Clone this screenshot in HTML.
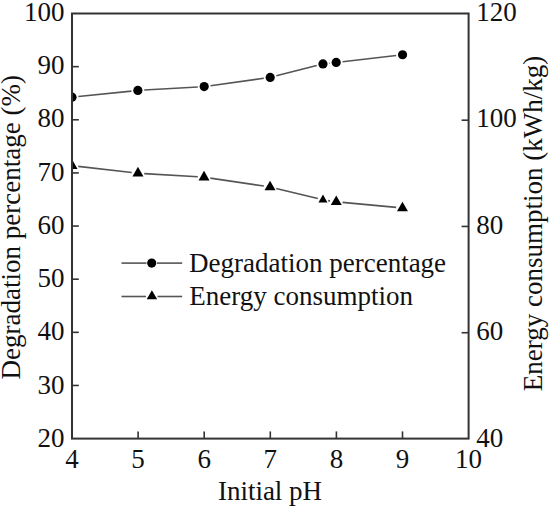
<!DOCTYPE html>
<html><head><meta charset="utf-8"><style>
html,body{margin:0;padding:0;background:#fff;}
svg{display:block;}

text{font-family:"Liberation Serif",serif;font-size:27px;fill:#111;}
</style></head><body><div>
<svg width="550" height="507" viewBox="0 0 550 507">
<defs><clipPath id="c"><rect x="72.0" y="13.5" width="396.60" height="425.10"/></clipPath></defs>
<g>
<g stroke="#555" stroke-width="1.6" fill="none"><line x1="78.37" y1="96.55" x2="131.48" y2="91.10"/><line x1="144.24" y1="90.07" x2="197.81" y2="86.93"/><line x1="210.54" y1="85.67" x2="263.86" y2="78.28"/><line x1="276.40" y1="75.82" x2="316.75" y2="65.53"/><line x1="329.31" y1="63.23" x2="329.84" y2="63.17"/><line x1="342.56" y1="61.71" x2="396.19" y2="55.49"/><line x1="78.26" y1="166.41" x2="131.69" y2="172.49"/><line x1="144.24" y1="173.58" x2="197.76" y2="176.82"/><line x1="210.28" y1="178.13" x2="263.82" y2="186.07"/><line x1="276.17" y1="188.48" x2="317.80" y2="198.55"/><line x1="328.19" y1="200.59" x2="330.02" y2="200.86"/><line x1="342.52" y1="202.39" x2="396.18" y2="207.41"/></g>
<g fill="#000" clip-path="url(#c)"><circle cx="72" cy="97.2" r="4.6"/><circle cx="137.85" cy="90.45" r="4.6"/><circle cx="204.2" cy="86.55" r="4.6"/><circle cx="270.2" cy="77.4" r="4.6"/><circle cx="322.95" cy="63.95" r="4.6"/><circle cx="336.2" cy="62.45" r="4.6"/><circle cx="402.55" cy="54.75" r="4.6"/><polygon points="72.00,159.35 66.50,168.88 77.50,168.88"/><polygon points="137.95,166.85 132.45,176.38 143.45,176.38"/><polygon points="204.05,170.85 198.55,180.38 209.55,180.38"/><polygon points="270.05,180.65 264.55,190.18 275.55,190.18"/><polygon points="322.95,194.60 318.45,202.40 327.45,202.40"/><polygon points="336.25,195.45 330.75,204.98 341.75,204.98"/><polygon points="402.45,201.65 396.95,211.18 407.95,211.18"/></g>
<g stroke="#333" stroke-width="1.6"><line x1="138.10" y1="438.60" x2="138.10" y2="431.40"/><line x1="204.20" y1="438.60" x2="204.20" y2="431.40"/><line x1="270.30" y1="438.60" x2="270.30" y2="431.40"/><line x1="336.40" y1="438.60" x2="336.40" y2="431.40"/><line x1="402.50" y1="438.60" x2="402.50" y2="431.40"/><line x1="72.00" y1="385.46" x2="78.80" y2="385.46"/><line x1="72.00" y1="332.33" x2="78.80" y2="332.33"/><line x1="72.00" y1="279.19" x2="78.80" y2="279.19"/><line x1="72.00" y1="226.05" x2="78.80" y2="226.05"/><line x1="72.00" y1="172.91" x2="78.80" y2="172.91"/><line x1="72.00" y1="119.78" x2="78.80" y2="119.78"/><line x1="72.00" y1="66.64" x2="78.80" y2="66.64"/><line x1="468.60" y1="120.18" x2="461.60" y2="120.18"/><line x1="468.60" y1="226.45" x2="461.60" y2="226.45"/><line x1="468.60" y1="332.73" x2="461.60" y2="332.73"/></g>
<rect x="72.0" y="13.5" width="396.60" height="425.10" fill="none" stroke="#333" stroke-width="2"/>
<g><text x="64.6" y="447.00" text-anchor="end">20</text><text x="64.6" y="393.70" text-anchor="end">30</text><text x="64.6" y="340.40" text-anchor="end">40</text><text x="64.6" y="287.10" text-anchor="end">50</text><text x="64.6" y="233.80" text-anchor="end">60</text><text x="64.6" y="180.50" text-anchor="end">70</text><text x="64.6" y="127.20" text-anchor="end">80</text><text x="64.6" y="73.90" text-anchor="end">90</text><text x="64.6" y="20.60" text-anchor="end">100</text><text x="476.2" y="446.90">40</text><text x="476.2" y="340.30">60</text><text x="476.2" y="233.70">80</text><text x="476.2" y="127.10">100</text><text x="476.2" y="20.50">120</text><text x="72.00" y="467.6" text-anchor="middle">4</text><text x="138.10" y="467.6" text-anchor="middle">5</text><text x="204.20" y="467.6" text-anchor="middle">6</text><text x="270.30" y="467.6" text-anchor="middle">7</text><text x="336.40" y="467.6" text-anchor="middle">8</text><text x="402.50" y="467.6" text-anchor="middle">9</text><text x="468.60" y="467.6" text-anchor="middle">10</text></g>
<text x="217.9" y="499.5">Initial pH</text>
<text transform="translate(20.2,379.4) rotate(-90)">Degradation percentage (%)</text>
<text transform="translate(542.3,391.2) rotate(-90)">Energy consumption (kWh/kg)</text>
<g stroke="#555" stroke-width="1.6"><line x1="121.5" y1="263.1" x2="146.5" y2="263.1"/><line x1="157" y1="263.1" x2="182.2" y2="263.1"/>
<line x1="121.5" y1="296.5" x2="146" y2="296.5"/><line x1="157.5" y1="296.5" x2="182.2" y2="296.5"/></g>
<circle cx="151.7" cy="263.1" r="4.6"/>
<polygon points="151.90,290.24 146.65,299.33 157.15,299.33"/>
<text x="189" y="272.3">Degradation percentage</text>
<text x="189.2" y="305.0">Energy consumption</text>
</g></svg></div>
</body></html>
